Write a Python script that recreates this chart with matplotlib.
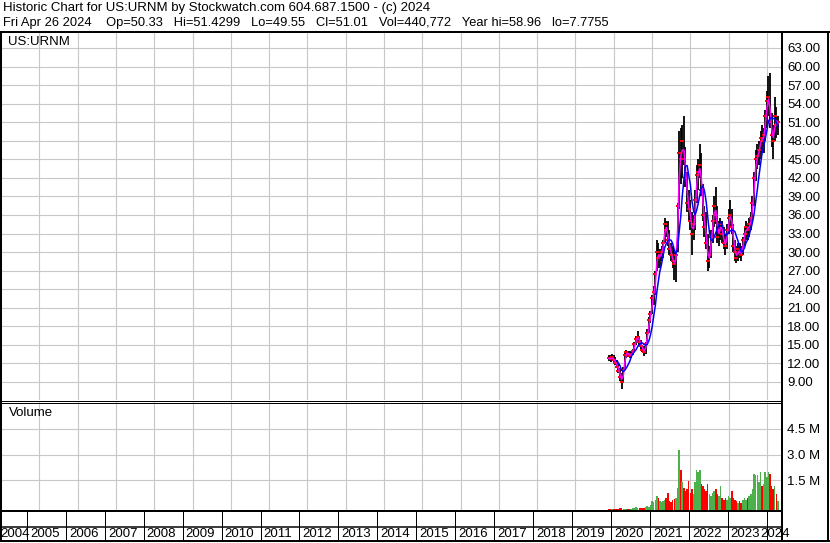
import numpy as np
import pandas as pd
import matplotlib
matplotlib.use("Agg")
import matplotlib.pyplot as plt
import matplotlib.dates as mdates
from matplotlib.lines import Line2D

plt.rcParams['font.family'] = ['Liberation Sans', 'DejaVu Sans']
plt.rcParams['font.size'] = 9

# =========================
# DATA (semi-monthly bars)
# =========================
dates = pd.date_range('2019-11-15', periods=107, freq='SMS')

hi = [13.4, 13.3, 13.5, 13.3, 13.0, 12.5, 12.0, 11.2, 10.5, 11.5,
      13.8, 14.2, 14.0, 14.0, 13.8, 14.3, 15.5, 16.5, 17.2, 16.5,
      15.8, 15.0, 14.8, 15.5, 17.5, 19.5, 20.5, 23.0, 24.5, 27.0,
      32.0, 31.5, 30.5, 31.0, 32.0, 35.5, 35.0, 35.0, 33.5, 31.5,
      31.0, 30.5, 30.0, 38.0, 49.5, 50.0, 50.5, 52.0, 47.0, 43.0,
      40.0, 38.5, 36.5, 36.0, 40.0, 44.0, 45.0, 47.5, 46.0, 41.0,
      37.5, 36.5, 33.0, 31.0, 33.5, 36.0, 39.0, 40.5, 37.5, 35.0,
      35.5, 35.0, 34.0, 33.0, 34.5, 37.0, 38.5, 37.0, 34.5, 32.0,
      31.0, 31.5, 31.5, 31.0, 32.5, 34.0, 35.0, 34.5, 35.5, 36.5,
      39.0, 43.0, 46.5, 47.5, 48.0, 49.5, 50.5, 50.0, 53.0, 56.0,
      58.5, 59.0, 52.5, 50.5, 55.0, 53.5, 52.0]

lo = [12.4, 12.3, 12.5, 12.2, 11.8, 11.2, 10.5, 9.2, 7.8, 9.0,
      11.0, 12.8, 13.0, 12.8, 12.8, 13.3, 14.0, 15.0, 15.5, 15.0,
      14.3, 13.8, 13.2, 13.5, 15.0, 17.0, 18.5, 20.0, 21.5, 23.0,
      27.0, 27.5, 27.5, 28.5, 29.0, 31.5, 32.5, 31.0, 29.5, 28.5,
      27.5, 25.5, 25.2, 30.0, 37.0, 41.0, 42.0, 44.0, 40.5, 36.5,
      35.0, 33.5, 29.5, 32.0, 33.5, 38.0, 40.0, 42.0, 39.0, 35.0,
      32.5, 30.5, 27.0, 27.5, 29.0, 31.5, 34.0, 34.5, 31.5, 31.0,
      32.0, 31.5, 30.5, 29.5, 30.5, 33.0, 34.0, 33.0, 30.0, 28.5,
      28.3, 28.5, 29.0, 28.5, 29.5, 31.0, 32.0, 32.0, 32.5, 33.5,
      35.0, 37.5, 41.5, 43.5, 44.0, 45.0, 46.5, 46.0, 48.0, 50.0,
      52.0, 50.0, 47.0, 45.0, 48.0, 48.5, 49.0]

cl = [12.8, 12.7, 13.0, 12.5, 12.0, 11.5, 10.8, 9.8, 9.0, 11.0,
      13.3, 13.8, 13.5, 13.2, 13.5, 14.0, 15.2, 16.0, 16.2, 15.5,
      14.8, 14.2, 13.8, 15.2, 17.0, 19.0, 20.0, 22.5, 23.5, 26.5,
      30.0, 29.0, 29.5, 30.0, 31.5, 34.5, 33.5, 32.0, 30.5, 29.5,
      28.5, 28.0, 29.5, 37.5, 46.0, 45.0, 48.0, 45.0, 42.0, 38.0,
      37.0, 35.0, 33.0, 34.5, 38.5, 42.5, 43.0, 44.0, 40.0, 36.0,
      34.0, 31.5, 28.5, 29.5, 32.5, 35.0, 37.5, 36.0, 32.5, 33.5,
      34.5, 33.0, 31.5, 31.0, 33.5, 35.5, 36.0, 34.0, 31.0, 30.0,
      29.0, 30.5, 30.0, 29.5, 32.0, 33.0, 34.0, 33.5, 34.5, 35.5,
      38.0, 42.0, 45.0, 45.5, 46.5, 48.5, 48.0, 49.0, 52.0, 54.5,
      55.0, 51.0, 49.0, 48.0, 52.0, 50.5, 51.0]

# volume in millions
vol = [0.05, 0.05, 0.06, 0.05, 0.06, 0.06, 0.08, 0.10, 0.12, 0.08,
       0.08, 0.07, 0.06, 0.07, 0.08, 0.10, 0.12, 0.15, 0.12, 0.10,
       0.10, 0.10, 0.12, 0.18, 0.25, 0.20, 0.30, 0.55, 0.45, 0.60,
       0.80, 0.70, 0.55, 0.45, 0.50, 0.60, 0.70, 1.00, 0.55, 0.45,
       0.60, 0.65, 0.70, 1.30, 3.50, 2.30, 1.60, 1.30, 1.10, 1.20,
       1.70, 1.00, 1.20, 0.90, 1.60, 2.30, 2.20, 2.30, 1.50, 1.40,
       1.20, 1.10, 1.50, 0.90, 0.80, 1.00, 1.10, 1.20, 0.90, 0.80,
       1.40, 0.70, 0.60, 0.70, 0.60, 0.80, 0.70, 1.10, 0.70, 0.60,
       0.50, 0.40, 0.50, 0.40, 0.60, 0.70, 0.60, 0.70, 0.80, 0.90,
       1.20, 2.10, 2.00, 2.00, 1.60, 2.20, 1.40, 1.50, 2.20, 1.90,
       2.20, 2.10, 1.40, 1.20, 1.40, 0.90, 0.50]

years = list(range(2004, 2025))
price_ticks = np.arange(9, 64, 3)
vol_ticks = [1.5, 3.0, 4.5]

header1 = "Historic Chart for US:URNM by Stockwatch.com 604.687.1500 - (c) 2024"
header2 = ("Fri Apr 26 2024    Op=50.33   Hi=51.4299   Lo=49.55   Cl=51.01   "
           "Vol=440,772   Year hi=58.96   lo=7.7755")

# =========================
# DERIVED
# =========================
close = pd.Series(cl)
ma_short = close.rolling(2, min_periods=1).mean()
ma_long = close.rolling(6, min_periods=6).mean()
up = close.diff().fillna(-1) >= 0
vol_colors = np.where(up, '#4cb04c', '#ff0000')

# =========================
# LAYOUT (pixel helpers)
# =========================
W, H = 830, 543


def fx(px):
    return px / W


def fy(py):
    return 1 - py / H


def axes_px(fig, x0, y0, x1, y1):
    return fig.add_axes([fx(x0), fy(y1), fx(x1) - fx(x0), fy(y0) - fy(y1)])


fig = plt.figure(figsize=(W / 100, H / 100), dpi=100)
fig.patch.set_facecolor('white')

x_left = mdates.date2num(pd.Timestamp('2004-05-02'))
x_right = mdates.date2num(pd.Timestamp('2024-05-14'))
year_x = [mdates.date2num(pd.Timestamp(f'{y}-01-01')) for y in years]

ax_p = axes_px(fig, 1, 33, 781, 400)
ax_v = axes_px(fig, 1, 402, 781, 510)

for ax in (ax_p, ax_v):
    ax.set_xlim(x_left, x_right)
    ax.set_xticks(year_x)
    ax.tick_params(axis='x', length=0, labelbottom=False)
    ax.yaxis.tick_right()
    ax.tick_params(axis='y', length=0, pad=4.5, labelsize=9.5)
    ax.grid(True, color='#c8c8c8', lw=0.8)
    ax.set_axisbelow(True)
    for s in ax.spines.values():
        s.set_visible(False)

# price panel
ax_p.vlines(dates, lo, hi, color='black', lw=1.3)
ax_p.plot(dates, cl, ls='none', marker='_', color='red', ms=2.5, mew=1.4)
ax_p.plot(dates, ma_short, color='#ff00ff', lw=1.1)
ax_p.plot(dates, ma_long, color='#0000ff', lw=1.1)
ax_p.set_ylim(6.09, 65.42)
ax_p.set_yticks(price_ticks)
ax_p.set_yticklabels([f'{v:.2f}' for v in price_ticks])
ax_p.text(7 / 780, 1 - 9 / 367, 'US:URNM', transform=ax_p.transAxes,
          fontsize=9.5, va='center')

# volume panel
ax_v.bar(dates, vol, width=15, bottom=-0.21, color=vol_colors)
ax_v.set_ylim(-0.21, 6.05)
ax_v.set_yticks(vol_ticks)
ax_v.set_yticklabels([f'{v:.1f} M' for v in vol_ticks])
ax_v.text(8 / 780, 1 - 11 / 108, 'Volume', transform=ax_v.transAxes,
          fontsize=9.5, va='center')

# header
fig.text(fx(3), fy(8), header1, fontsize=9.5, va='center')
fig.text(fx(3), fy(23), header2, fontsize=9.3, va='center')


# frame lines
def line(x0, y0, x1, y1, w):
    fig.add_artist(Line2D([fx(x0), fx(x1)], [fy(y0), fy(y1)],
                          transform=fig.transFigure, color='black',
                          lw=w * 0.72, solid_capstyle='butt'))


line(0, 32, 830, 32, 2)
line(1, 32, 1, 542, 2)
line(781.5, 32, 781.5, 542, 2)
line(828, 32, 828, 542, 2)
line(0, 541, 830, 541, 2)
line(0, 400.5, 781, 400.5, 1)
line(0, 402.5, 781, 402.5, 1)
line(0, 510.5, 781, 510.5, 2)
line(0, 526.5, 781, 526.5, 1.5)

# year separators and labels
span = x_right - x_left
for yr, xv in zip(years, year_x):
    px = 1 + (xv - x_left) / span * 780
    if 0 < px < 781:
        line(px, 510, px, 541, 1)
    lx = min(max(px + 3, 0), 760)
    fig.text(fx(lx), fy(534), str(yr), fontsize=9.5, va='center', ha='left')

fig.savefig('out.png', dpi=100)
